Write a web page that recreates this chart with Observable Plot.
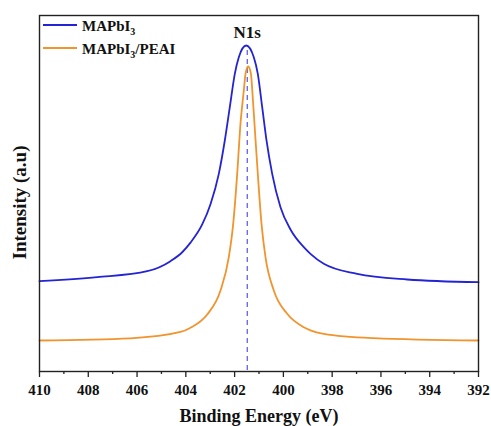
<!DOCTYPE html>
<html>
<head>
<meta charset="utf-8">
<script src="https://cdn.jsdelivr.net/npm/d3@7"></script>
<script src="https://cdn.jsdelivr.net/npm/@observablehq/plot@0.6"></script>
<style>
  body { margin: 0; background: #fff; }
  #chart { width: 491px; height: 426px; }
</style>
</head>
<body>
<div id="chart"></div>
<script>
// Binding energy (eV) and intensity (a.u., arbitrary 0–100)
const mapbi3Energy = [410.000, 407.634, 405.584, 404.629, 404.149, 403.809, 403.329, 402.989, 402.648, 402.402, 402.197, 401.992, 401.828, 401.525, 401.213, 401.049, 400.869, 400.692, 400.459, 400.119, 399.709, 399.163, 398.889, 398.343, 396.974, 394.924, 392.000];
const mapbi3Intensity = [25.37, 26.49, 28.17, 31.00, 33.50, 36.20, 41.30, 47.00, 55.53, 64.89, 74.24, 83.62, 88.29, 91.57, 88.29, 83.62, 74.24, 64.89, 55.53, 46.15, 39.90, 34.92, 33.06, 30.25, 27.44, 25.84, 25.08];

const peaiEnergy = [410.000, 406.269, 404.219, 403.809, 403.124, 402.579, 402.238, 402.058, 401.894, 401.759, 401.623, 401.553, 401.443, 401.330, 401.275, 401.185, 401.049, 400.897, 400.734, 400.393, 399.844, 399.163, 398.889, 398.343, 396.293, 392.000];
const peaiIntensity = [8.71, 9.33, 11.10, 12.30, 16.00, 22.75, 32.11, 41.49, 55.53, 69.58, 78.93, 83.62, 85.67, 83.62, 78.93, 69.58, 55.53, 41.49, 32.11, 22.75, 16.21, 12.44, 11.57, 10.59, 9.38, 8.71];

const seriesNames = ["MAPbI3", "MAPbI3/PEAI"];
const seriesColors = ["#2424d4", "#f0942e"];
const peakPosition = 401.48;
const peakLabel = "N1s";
const majorTicks = [410, 408, 406, 404, 402, 400, 398, 396, 394, 392];
const minorTicks = [409, 407, 405, 403, 401, 399, 397, 395, 393];
const xLabel = "Binding Energy (eV)";
const yLabel = "Intensity (a.u)";

const mapbi3 = mapbi3Energy.map((e, i) => ({energy: e, intensity: mapbi3Intensity[i], series: seriesNames[0]}));
const peai = peaiEnergy.map((e, i) => ({energy: e, intensity: peaiIntensity[i], series: seriesNames[1]}));

const FONT = "'Liberation Serif', 'Times New Roman', serif";

function legendMark(index, scales, values, dims) {
  const g = d3.create("svg:g")
    .attr("font-family", FONT)
    .attr("font-weight", "bold")
    .attr("font-size", 15)
    .attr("text-anchor", "start");
  const x0 = dims.marginLeft + 4;
  const rows = [
    {name: "MAPbI", sub: "3", rest: "", color: seriesColors[0], y: dims.marginTop + 10},
    {name: "MAPbI", sub: "3", rest: "/PEAI", color: seriesColors[1], y: dims.marginTop + 33}
  ];
  for (const r of rows) {
    g.append("line")
      .attr("x1", x0).attr("x2", x0 + 34)
      .attr("y1", r.y).attr("y2", r.y)
      .attr("stroke", r.color).attr("stroke-width", 1.8);
    const t = g.append("text")
      .attr("x", x0 + 39).attr("y", r.y + 6)
      .attr("text-anchor", "start")
      .attr("fill", "#111");
    t.append("tspan").text(r.name);
    t.append("tspan").attr("font-size", 10).attr("dy", 4).text(r.sub);
    if (r.rest) t.append("tspan").attr("dy", -4).text(r.rest);
  }
  return g.node();
}

const chart = Plot.plot({
  width: 491,
  height: 426,
  marginLeft: 39,
  marginRight: 13,
  marginTop: 15,
  marginBottom: 55,
  style: {fontFamily: FONT, fontWeight: "bold", fontSize: "15px", color: "#111", background: "#fff"},
  x: {domain: [410, 392]},
  y: {domain: [0, 100], axis: null},
  marks: [
    Plot.ruleX([peakPosition], {y1: 90.2, y2: 0, stroke: "#6d6de6", strokeWidth: 1.4, strokeDasharray: "5,4"}),
    Plot.line(mapbi3, {x: "energy", y: "intensity", stroke: seriesColors[0], strokeWidth: 1.8, curve: "monotone-x"}),
    Plot.line(peai, {x: "energy", y: "intensity", stroke: seriesColors[1], strokeWidth: 1.8, curve: "monotone-x"}),
    Plot.axisX({ticks: majorTicks, tickSize: 6, tickPadding: 7, tickFormat: d => String(d), label: null, stroke: "#222", strokeWidth: 1.3}),
    Plot.axisX({ticks: minorTicks, tickSize: 3, tickFormat: () => "", label: null, stroke: "#222", strokeWidth: 1.3}),
    Plot.frame({stroke: "#222", strokeWidth: 1.4}),
    Plot.text([peakLabel], {x: () => peakPosition, frameAnchor: "top", dy: 10, text: d => d, fontSize: 17, fontWeight: "bold", fill: "#111"}),
    Plot.text([xLabel], {frameAnchor: "bottom", dy: 50, text: d => d, fontSize: 18, fontWeight: "bold", fill: "#111"}),
    Plot.text([yLabel], {frameAnchor: "left", dx: -20, dy: 9, rotate: -90, textAnchor: "middle", text: d => d, fontSize: 19, fontWeight: "bold", fill: "#111"}),
    legendMark
  ]
});
document.getElementById("chart").appendChild(chart);
</script>
</body>
</html>
